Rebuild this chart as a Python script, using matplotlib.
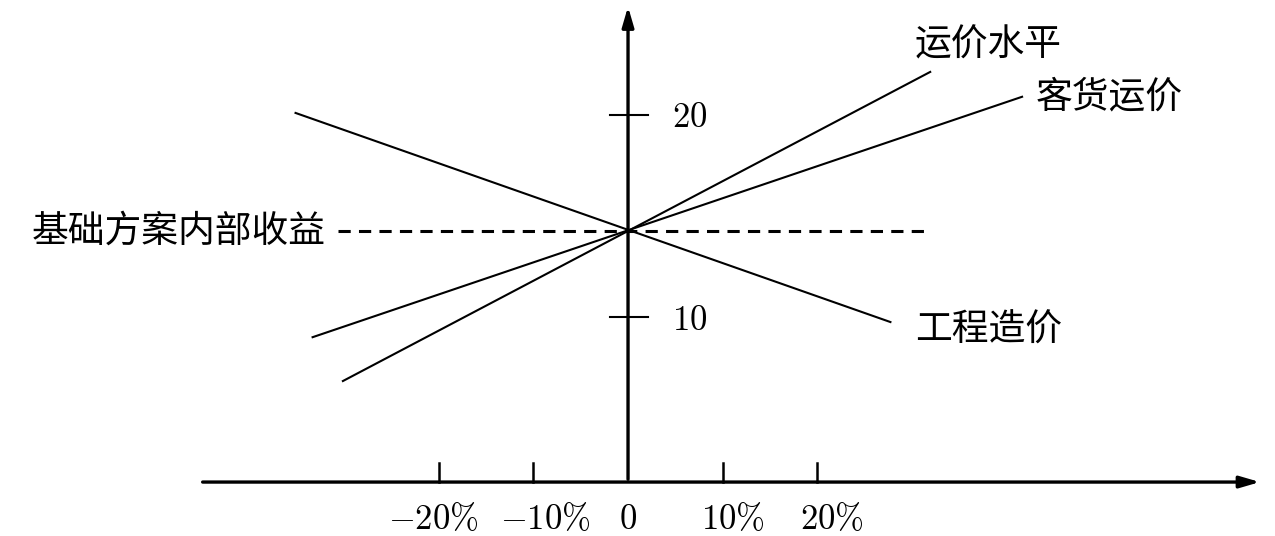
import matplotlib
matplotlib.use('Agg')
import matplotlib.pyplot as plt

plt.rcParams['font.family'] = ['Noto Sans CJK SC', 'DejaVu Sans']
plt.rcParams['mathtext.fontset'] = 'cm'

# sensitivity data (change in % vs internal rate of return)
pct_ticks = [-20, -10, 0, 10, 20]
pct_labels = [r'$-20\%$', r'$-10\%$', r'$0$', r'$10\%$', r'$20\%$']
irr_ticks = [10, 20]
base_irr = 14.26

cost_x = [-35.1, 27.7]          # 工程造价
cost_y = [20.1, 9.75]
freight_x = [-30.1, 31.9]       # 运价水平
freight_y = [6.83, 22.13]
fare_x = [-33.3, 41.6]          # 客货运价
fare_y = [9.0, 20.9]
base_x = [-30.6, 31.9]

fig = plt.figure(figsize=(12.75, 5.36), dpi=100)
ax = fig.add_axes([0, 0, 1, 1])
ax.set_xlim(-66.3, 68.3)
ax.set_ylim(-0.84, 25.69)
ax.axis('off')

x_axis_y = 1.83
k = dict(color='black', lw=2.4)
# axes with arrows
ax.annotate('', xy=(67.0, x_axis_y), xytext=(-45.2, x_axis_y),
            arrowprops=dict(arrowstyle='-|>,head_length=1.2,head_width=0.35', **k))
ax.annotate('', xy=(0, 25.5), xytext=(0, x_axis_y),
            arrowprops=dict(arrowstyle='-|>,head_length=1.2,head_width=0.35', **k))

# ticks
for t in pct_ticks:
    if t != 0:
        ax.plot([t, t], [x_axis_y, x_axis_y + 0.95], color='black', lw=1.8)
for t in irr_ticks:
    ax.plot([-1.9, 2.1], [t, t], color='black', lw=1.5)

# tick labels (slightly spread out like the original)
label_shift = [-0.6, 1.3, 0, 1.1, 1.5]
for t, s, lab in zip(pct_ticks, label_shift, pct_labels):
    ax.text(t + s, 0.0, lab, ha='center', va='center', fontsize=25)
for t in irr_ticks:
    ax.text(4.6, t - 0.15, f'${t}$', ha='left', va='center', fontsize=25)

# lines
ax.plot(cost_x, cost_y, color='black', lw=1.5)
ax.plot(freight_x, freight_y, color='black', lw=1.5)
ax.plot(fare_x, fare_y, color='black', lw=1.5)
ax.plot(base_x, [base_irr, base_irr], color='black', lw=2.2, ls=(0, (4.0, 2.7)))

fs = 26.5
fw = 'light'
ax.text(30.3, 23.47, '运价水平', ha='left', va='center', fontsize=fs, fontweight=fw)
ax.text(43.0, 20.89, '客货运价', ha='left', va='center', fontsize=fs, fontweight=fw)
ax.text(30.3, 9.36, '工程造价', ha='left', va='center', fontsize=fs, fontweight=fw)
ax.text(-31.9, base_irr, '基础方案内部收益', ha='right', va='center', fontsize=fs, fontweight=fw)

fig.savefig('out.png', dpi=100)
